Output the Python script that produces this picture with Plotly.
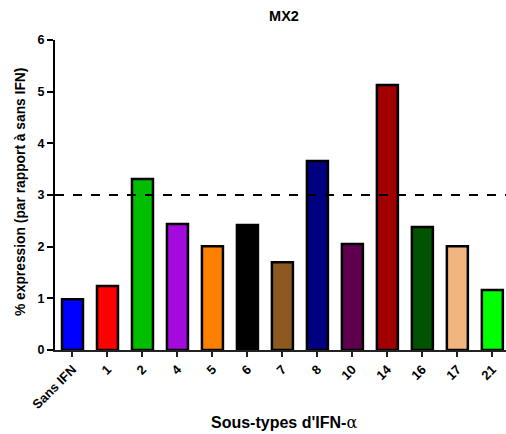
import plotly.graph_objects as go

categories = ["Sans IFN", "1", "2", "4", "5", "6", "7", "8", "10", "14", "16", "17", "21"]
values = [0.98, 1.24, 3.31, 2.44, 2.01, 2.42, 1.70, 3.66, 2.05, 5.13, 2.38, 2.01, 1.16]
colors = ["#0000FF", "#FF0000", "#00BF00", "#A30BDC", "#FF8000", "#000000", "#8C5A1E",
          "#000080", "#5F004F", "#A00000", "#005300", "#F1B67F", "#00FF00"]
threshold = 3

fig = go.Figure()
fig.add_trace(go.Bar(
    x=categories, y=values,
    marker=dict(color=colors, line=dict(color="black", width=2.5)),
    width=0.6,
))
fig.add_hline(y=threshold, line=dict(color="black", width=2.2, dash="dash"))

font = "Liberation Sans, Arial, sans-serif"
W, H = 506, 434
fig.update_layout(
    width=W, height=H,
    margin=dict(l=55, r=0, t=40, b=84),
    plot_bgcolor="white", paper_bgcolor="white",
    showlegend=False,
    font=dict(family=font, color="black"),
    title=dict(text="<b>MX2</b>", x=284/W, xanchor="center", y=1 - 16/H, yanchor="middle",
               font=dict(size=14.5, family=font)),
    bargap=0.4,
)
fig.add_annotation(
    text="<b>Sous-types d'IFN-</b><span style='font-family:DejaVu Serif'>α</span>",
    xref="paper", yref="paper", x=(284 - 55) / 451, y=-(422 - 350) / 310,
    xanchor="center", yanchor="middle", showarrow=False, font=dict(size=16, family=font),
)
fig.add_annotation(
    text="<b>% expression (par rapport à sans IFN)</b>",
    xref="paper", yref="paper", x=-(55 - 20) / 451, y=(350 - 192) / 310,
    xanchor="center", yanchor="middle", showarrow=False, textangle=-90,
    font=dict(size=13.8, family=font),
)
fig.update_xaxes(
    type="category", range=[-0.5, 12.39], automargin=False,
    showline=True, linecolor="#222222", linewidth=1.5,
    ticks="outside", ticklen=5, tickwidth=1.5, tickcolor="#222222",
    tickangle=-45, tickfont=dict(size=13, family=font, weight="bold"),
    showgrid=False,
)
fig.update_yaxes(
    range=[0, 6], dtick=1, automargin=False,
    showline=True, linecolor="black", linewidth=2,
    ticks="outside", ticklen=6, tickwidth=2, tickcolor="black",
    tickfont=dict(size=12.5, family=font, weight="bold"),
    showgrid=False, zeroline=False,
)
fig.write_html("out.html", config={"displayModeBar": False},
               post_script="document.body.style.margin='0';document.body.style.overflow='hidden';")
